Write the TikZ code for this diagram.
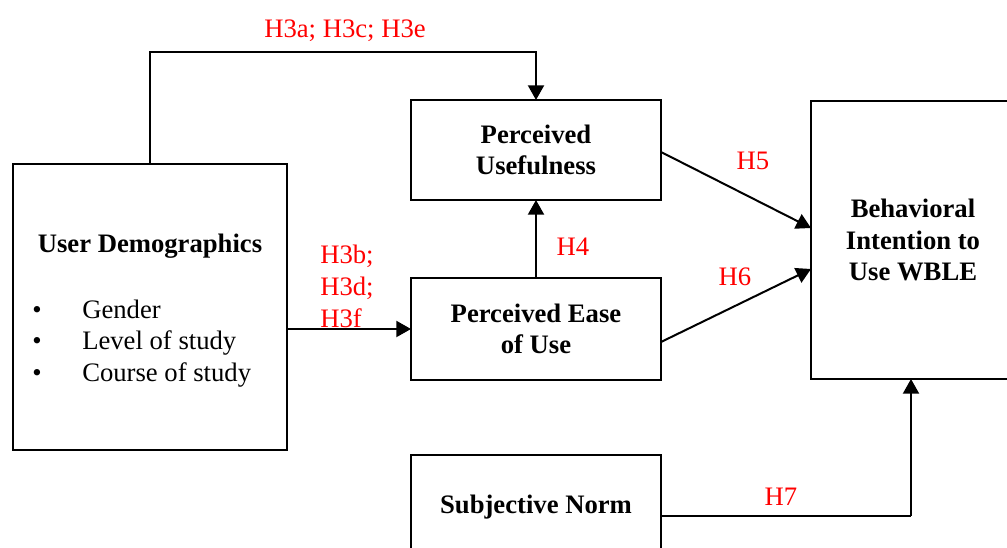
\documentclass[tikz,border=0pt]{standalone}
\usepackage{fontspec}
\setmainfont{Liberation Serif}
\usetikzlibrary{arrows.meta,calc}
\definecolor{hyp}{RGB}{255,0,0}
\tikzset{
  box/.style={draw, line width=1.5pt, outer sep=0pt, inner sep=0pt, align=center,
              font=\fontsize{20}{23.5}\selectfont\bfseries},
  txt/.style={inner sep=0pt, font=\fontsize{20}{23.5}\selectfont},
  hyplabel/.style={txt, text=hyp},
  arr/.style={line width=1.5pt, -{Triangle[length=11pt,width=12pt]}},
  plain/.style={line width=1.5pt}
}
\begin{document}
\begin{tikzpicture}[x=0.75pt,y=-0.75pt]
\useasboundingbox (0,0) rectangle (1007,548);

% constructs
\node[box, minimum width=205.5pt, minimum height=214.5pt] (ud) at (150,307) {};
\node[box, minimum width=187.5pt, minimum height=75pt] (pu) at (536,150) {Perceived\\Usefulness};
\node[box, minimum width=187.5pt, minimum height=76.5pt] (peou) at (536,329) {Perceived Ease\\of Use};
\node[box, minimum width=187.5pt, minimum height=78pt] (sn) at (536,507) {Subjective Norm};
\node[box, minimum width=153pt, minimum height=208.5pt] (bi) at (913,240) {Behavioral\\Intention to\\Use WBLE};

% contents of the demographics box
\node[txt, font=\fontsize{20}{23.5}\selectfont\bfseries] (udt) at (150,246) {User Demographics};
\node[txt, anchor=base west] (b1) at (82,319) {Gender};
\node[txt, anchor=base west] (b2) at (82,350) {Level of study};
\node[txt, anchor=base west] (b3) at (82,382) {Course of study};
\node[txt, anchor=base] (d1) at (37,319) {•};
\node[txt, anchor=base] (d2) at (37,350) {•};
\node[txt, anchor=base] (d3) at (37,382) {•};

% paths
\coordinate (k) at (150,52);
\draw[arr] (ud.north) -- (k) -| (pu.north);
\draw[arr] (peou.west -| ud.east) -- (peou.west);
\draw[arr] (peou.north) -- (pu.south);
\draw[arr] ($(pu.east)+(0,2)$) -- ($(bi.west)+(0,-12)$);
\draw[arr] ($(peou.east)+(0,13)$) -- ($(bi.west)+(0,29)$);
\coordinate (bj) at (911,516);
\draw[plain] ($(sn.east)+(0,9)$) -- (bj);
\draw[arr] (bj) -- (bj |- bi.south);

% hypothesis labels
\node[hyplabel] (h3ace) at (345,31) {H3a; H3c; H3e};
\node[hyplabel, align=left, anchor=north west, font=\fontsize{20}{23.75}\selectfont] (h3bdf) at (320,245) {H3b;\\H3d;\\H3f};
\node[hyplabel] (h4) at (573,247) {H4};
\node[hyplabel] (h5) at (753,161) {H5};
\node[hyplabel] (h6) at (735,277) {H6};
\node[hyplabel] (h7) at (781,497) {H7};
\end{tikzpicture}
\end{document}
